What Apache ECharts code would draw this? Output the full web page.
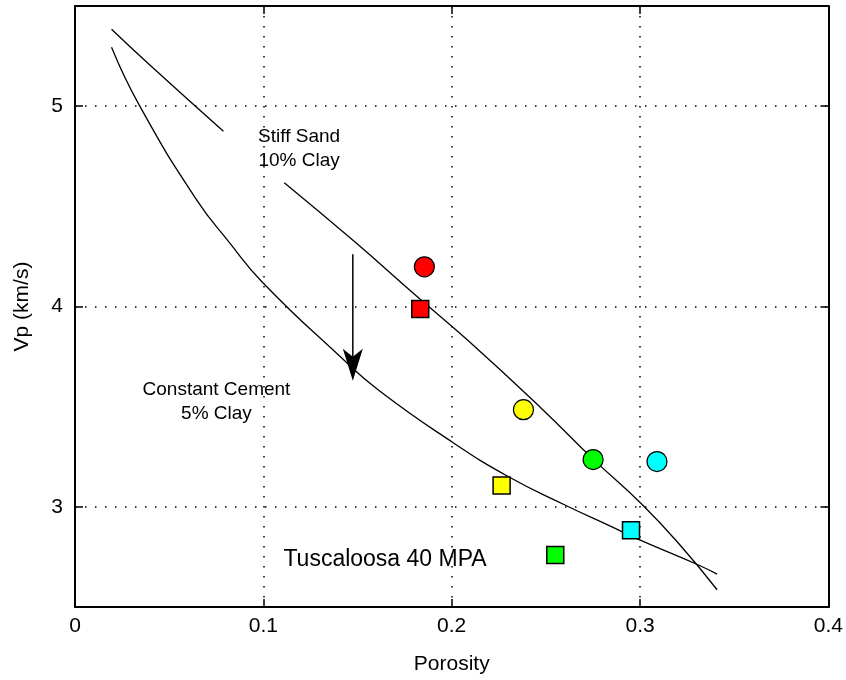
<!DOCTYPE html>
<html><head><meta charset="utf-8">
<script src="https://cdn.jsdelivr.net/npm/echarts@6/dist/echarts.min.js"></script>
<style>html,body{margin:0;padding:0;background:#fff}#c{width:846px;height:680px}</style>
</head><body><div id="c"></div>
<script>
// ---- data ----
const xTicks = [0, 0.1, 0.2, 0.3, 0.4];
const yTicks = [3, 4, 5];
const circleX = [0.1855, 0.2381, 0.2751, 0.309];
const circleY = [4.198, 3.485, 3.236, 3.226];
const squareX = [0.1833, 0.2265, 0.255, 0.2952];
const squareY = [3.988, 3.107, 2.759, 2.883];
const markerColors = ['#ff0000', '#ffff00', '#00ff00', '#00ffff'];
const stiffUpperX = [0.0194, 0.0406, 0.0788];
const stiffUpperY = [5.384, 5.198, 4.875];
const stiffX = [0.1111, 0.149, 0.179, 0.2081, 0.2478, 0.2751, 0.3007, 0.3219, 0.3409];
const stiffY = [4.618, 4.319, 4.071, 3.835, 3.49, 3.238, 3.015, 2.802, 2.586];
const cementX = [0.0194, 0.0344, 0.0644, 0.082, 0.0996, 0.1402, 0.1614, 0.2002, 0.2302, 0.2601, 0.2848, 0.2998, 0.3307, 0.3409];
const cementY = [5.294, 5.0, 4.535, 4.319, 4.12, 3.755, 3.581, 3.324, 3.15, 3.009, 2.901, 2.835, 2.711, 2.664];
const arrowX = [0.1475, 0.1475];
const arrowY = [4.261, 3.709];
const noteTexts = ['Stiff Sand\n10% Clay', 'Constant Cement\n5% Clay', 'Tuscaloosa 40 MPA'];
const noteX = [0.119, 0.0751, 0.1646];
const noteY = [4.789, 3.525, 2.734];
const xName = 'Porosity';
const yName = 'Vp (km/s)';

// ---- chart ----
const FONT = '"Liberation Sans", Arial, sans-serif';
const zip = (a, b) => a.map((v, i) => [v, b[i]]);
const gridLine = { show: true, lineStyle: { color: '#000', width: 1.5, type: [1.5, 8.5] } };
const axisLine = { show: true, onZero: false, lineStyle: { color: '#000', width: 2 } };
const tick = { show: true, inside: true, length: 8, lineStyle: { color: '#000', width: 1.5 } };

const curveStyle = { color: '#000', width: 1.3 };
const lineSeries = (x, y) => ({
  type: 'line', data: zip(x, y), symbol: 'none', smooth: 0.5, silent: true,
  lineStyle: curveStyle, z: 3
});

const option = {
  animation: false,
  backgroundColor: '#fff',
  grid: { left: 75, right: 15, top: 6, bottom: 71, show: false },
  xAxis: [
    { type: 'value', min: 0, max: 0.4, interval: 0.1, position: 'bottom',
      name: xName, nameLocation: 'middle', nameGap: 47,
      nameTextStyle: { fontFamily: FONT, fontSize: 21, color: '#000' },
      axisLine, axisTick: tick, splitLine: gridLine,
      axisLabel: { color: '#000', fontFamily: FONT, fontSize: 21, margin: 9 } },
    { type: 'value', min: 0, max: 0.4, interval: 0.1, position: 'top',
      axisLine, axisTick: tick, splitLine: { show: false }, axisLabel: { show: false } }
  ],
  yAxis: [
    { type: 'value', min: 2.5, max: 5.5, position: 'left',
      name: yName, nameLocation: 'middle', nameGap: 42, nameRotate: 90,
      nameTextStyle: { fontFamily: FONT, fontSize: 21, color: '#000' },
      axisLine, axisTick: Object.assign({ customValues: yTicks }, tick), splitLine: gridLine,
      axisLabel: { customValues: yTicks, color: '#000', fontFamily: FONT, fontSize: 21, margin: 12 } },
    { type: 'value', min: 2.5, max: 5.5, position: 'right',
      axisLine, axisTick: Object.assign({ customValues: yTicks }, tick),
      splitLine: { show: false }, axisLabel: { show: false } }
  ],
  series: [
    lineSeries(stiffUpperX, stiffUpperY),
    lineSeries(stiffX, stiffY),
    lineSeries(cementX, cementY),
    // arrow shaft
    { type: 'line', data: zip(arrowX, arrowY), symbol: 'none', silent: true,
      lineStyle: { color: '#000', width: 1.5 }, z: 4 },
    // arrow head (tip at the last arrow point)
    { type: 'scatter', silent: true, z: 4,
      data: [[arrowX[1], arrowY[1]]],
      symbol: 'arrow', symbolSize: [15, 32], symbolRotate: 180, symbolOffset: [0, '50%'],
      itemStyle: { color: '#000', opacity: 1 } },
    { type: 'scatter', symbol: 'circle', symbolSize: 20, z: 5,
      data: circleX.map((x, i) => ({ value: [x, circleY[i]], itemStyle: { color: markerColors[i] } })),
      itemStyle: { borderColor: '#000', borderWidth: 1.2, opacity: 1 } },
    { type: 'scatter', symbol: 'rect', symbolSize: 17, z: 5,
      data: squareX.map((x, i) => ({ value: [x, squareY[i]], itemStyle: { color: markerColors[i] } })),
      itemStyle: { borderColor: '#000', borderWidth: 1.5, opacity: 1 } },
    { type: 'scatter', symbolSize: 0, silent: true, z: 6,
      itemStyle: { opacity: 1 },
      data: noteTexts.map((t, i) => ({ value: [noteX[i], noteY[i]], name: t,
        label: { fontSize: i === 2 ? 23 : 19, lineHeight: i === 2 ? 26 : 24 } })),
      label: { show: true, position: 'inside', formatter: p => p.name, color: '#000',
        textBorderWidth: 0, opacity: 1,
        fontFamily: FONT, align: 'center', verticalAlign: 'middle' } }
  ]
};
const chart = echarts.init(document.getElementById('c'), null, { renderer: 'canvas' });
chart.setOption(option);
</script></body></html>
